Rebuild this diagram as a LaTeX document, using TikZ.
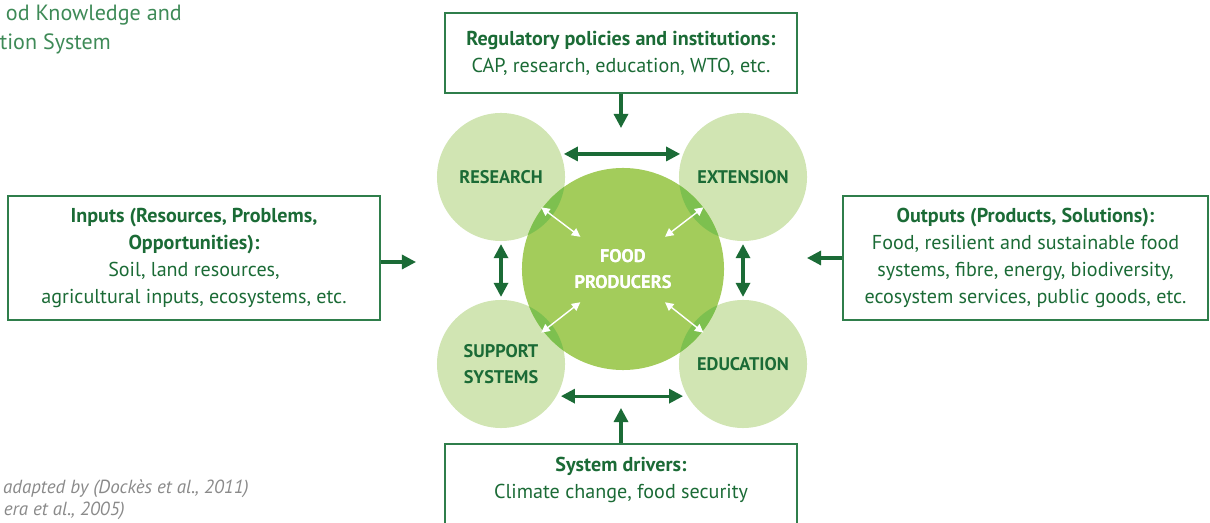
\documentclass[tikz,border=0pt]{standalone}
\usepackage{fontspec}
\setmainfont{PT Sans}
\usetikzlibrary{arrows.meta, positioning, calc}
\definecolor{akdark}{HTML}{1B6B36}
\definecolor{akframe}{HTML}{2F7E4B}
\definecolor{aklight}{HTML}{D1E5B3}
\definecolor{akmid}{HTML}{A3CC5B}
\definecolor{akdeep}{HTML}{7DC04F}
\definecolor{aktitle}{HTML}{3E8A57}
\definecolor{akgray}{HTML}{8A8A8A}

\begin{document}
\begin{tikzpicture}[
  x=0.025cm, y=-0.025cm,
  every node/.style={font=\fontsize{14.3}{19}\selectfont, text=akdark},
  infobox/.style={rectangle, draw=akframe, line width=0.9pt, align=center, inner sep=0pt},
  actor/.style={circle, fill=aklight, minimum size=3.2cm, inner sep=0pt, align=center, font=\fontsize{13}{18.5}\selectfont\bfseries},
  link/.style={{Triangle[length=10pt,width=10pt]}-{Triangle[length=10pt,width=10pt]}, akdark, line width=2.2pt},
  feed/.style={-{Triangle[length=10pt,width=10pt]}, akdark, line width=2.2pt},
  swap/.style={{Triangle[length=6pt,width=6pt]}-{Triangle[length=6pt,width=6pt]}, white, line width=1pt},
  note/.style={anchor=east, inner sep=0pt},
]
\useasboundingbox (0,0) rectangle (1210,523);
% actors around the producers
\node[actor] (research) at (501,177) {RESEARCH};
\node[actor] (extension) at (743,177) {EXTENSION};
\node[actor] (support) at (501,364) {SUPPORT\\SYSTEMS};
\node[actor] (education) at (743,364) {EDUCATION};
\node[actor, fill=akmid, minimum size=5.05cm, text=white] (food) at (623,269) {FOOD\\PRODUCERS};
\begin{scope}
  \clip (food.center) circle[radius=101];
  \foreach \c in {research,extension,support,education}
    \fill[akdeep] (\c.center) circle[radius=64];
\end{scope}
\node[actor, fill=none, minimum size=5.05cm, text=white] at (food.center) {FOOD\\PRODUCERS};
\draw[link, shorten <=2pt, shorten >=2pt] (research.21) -- (extension.159);
\draw[link, shorten <=3pt, shorten >=3pt] (support.-30) -- (education.-150);
\draw[link, shorten <=2pt, shorten >=2pt] (research.-90) -- (support.90);
\draw[link, shorten <=2pt, shorten >=2pt] (extension.-90) -- (education.90);
\foreach \c in {research,extension,support,education}
  \draw[swap] ($(food)!0.35!(\c)$) -- ($(food)!0.67!(\c)$);
% context boxes
\node[infobox, minimum width=8.8cm, minimum height=2cm] (policies) at (621,53) {\textbf{Regulatory policies and institutions:}\\CAP, research, education, WTO, etc.};
\node[infobox, minimum width=9.3cm, minimum height=3.1cm] (inputs) at (194,258) {\textbf{Inputs (Resources, Problems,}\\\textbf{Opportunities):}\\Soil, land resources,\\agricultural inputs, ecosystems, etc.};
\node[infobox, minimum width=9.125cm, minimum height=3.1cm] (outputs) at (1025.5,258) {\textbf{Outputs (Products, Solutions):}\\Food, resilient and sustainable food\\systems, fibre, energy, biodiversity,\\ecosystem services, public goods, etc.};
\node[infobox, minimum width=8.8cm, minimum height=2.9cm] (drivers) at (621,502) {};
\node[align=center, inner sep=0pt] (driverstext) at (621,480) {\textbf{System drivers:}\\Climate change, food security};
\coordinate (policytip) at (621,128);
\coordinate (drivertip) at (621,408);
\coordinate (inputtip) at (416,262);
\coordinate (outputtip) at (807,258);
\draw[feed] (policies) -- (policytip);
\draw[feed] (drivers) -- (drivertip);
\draw[feed] (inputs.east |- inputtip) -- (inputtip);
\draw[feed] (outputs) -- (outputtip);
% title and source
\node[note, text=aktitle, font=\fontsize{15.7}{20}\selectfont] (title1) at (182,15) {od Knowledge and};
\node[note, text=aktitle, font=\fontsize{15.7}{20}\selectfont] (title2) at (111,44) {tion System};
\node[note, text=akgray, font=\fontsize{13.5}{16}\selectfont\itshape] (source1) at (249,489) {adapted by (Dockès et al., 2011)};
\node[note, text=akgray, font=\fontsize{13.5}{16}\selectfont\itshape] (source2) at (125,511) {era et al., 2005)};
\end{tikzpicture}
\end{document}
